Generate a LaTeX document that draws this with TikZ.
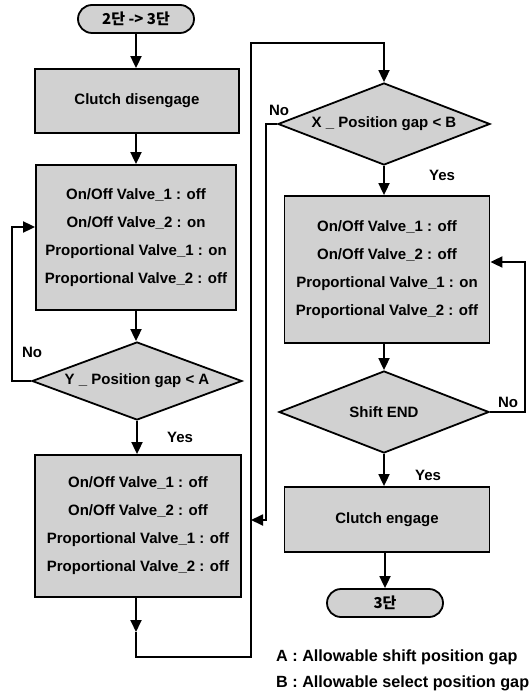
\documentclass[tikz,border=0pt]{standalone}
\usepackage{fontspec}
\setmainfont{Liberation Sans}
\newfontfamily\cjkfont{Noto Sans CJK KR}
\usetikzlibrary{shapes.geometric,shapes.misc,arrows.meta}
\begin{document}
\begin{tikzpicture}[x=1pt,y=-1pt,
  txt/.style={font=\fontsize{15}{18}\selectfont\bfseries},
  base/.style={draw, line width=1.8pt, fill=black!18, inner sep=0pt, align=center, txt},
  term/.style={base, rounded rectangle, minimum width=116pt, minimum height=28pt},
  proc/.style={base, rectangle},
  multi/.style={font=\fontsize{15}{28}\selectfont\bfseries},
  decision/.style={base, diamond, aspect=2.6},
  line/.style={line width=1.8pt},
  arr/.style={line, -{Triangle[length=12pt,width=11pt]}},
  lbl/.style={txt, inner sep=0pt},
  legend/.style={font=\fontsize{16.2}{19}\selectfont\bfseries, inner sep=0pt, anchor=west}
]
\useasboundingbox (0,0) rectangle (529,700);

% left column
\node[term] (start) at (136,19) {\cjkfont 2단 -> 3단};
\node[proc, minimum width=204pt, minimum height=64pt] (cd) at (137,101) {Clutch disengage};
\node[proc, multi, minimum width=200pt, minimum height=145pt] (b2) at (136,237.5)
  {On/Off Valve\_1 : off\\On/Off Valve\_2 : on\\Proportional Valve\_1 : on\\Proportional Valve\_2 : off};
\node[decision, minimum width=210pt, minimum height=78pt] (yd) at (137,381) {Y \_ Position gap < A};
\node[proc, multi, minimum width=206pt, minimum height=142pt] (b3) at (138,526)
  {On/Off Valve\_1 : off\\On/Off Valve\_2 : off\\Proportional Valve\_1 : off\\Proportional Valve\_2 : off};

% right column
\node[decision, minimum width=212pt, minimum height=82pt] (xd) at (384,124) {X \_ Position gap < B};
\node[proc, multi, minimum width=205pt, minimum height=147pt] (r1) at (387,269.5)
  {On/Off Valve\_1 : off\\On/Off Valve\_2 : off\\Proportional Valve\_1 : on\\Proportional Valve\_2 : off};
\node[decision, minimum width=210pt, minimum height=82pt] (sd) at (384,412) {Shift END};
\node[proc, minimum width=205pt, minimum height=65pt] (ce) at (387,519.5) {Clutch engage};
\node[term] (end) at (385,603) {\cjkfont 3단};

% helper coordinates
\coordinate (lj) at (12,227);
\coordinate (m1) at (136,632);
\coordinate (c1) at (136,657);
\coordinate (c2) at (251,657);
\coordinate (c3) at (251,43);
\coordinate (c4) at (384,43);
\coordinate (nx) at (266,520);
\coordinate (j1) at (251,520);
\coordinate (rj) at (525,262);

% connectors left
\draw[arr] (start.south) -- (start.south |- cd.north);
\draw[arr] (cd.south -| b2.north) -- (b2.north);
\draw[arr] (b2.south) -- (b2.south |- yd.north);
\draw[arr] (yd.south) -- (yd.south |- b3.north);
\draw[arr] (yd.west) -| (lj) -- (lj -| b2.west);
\draw[arr] (b3.south -| m1) -- (m1);
\draw[arr] (m1) -- (c1) -- (c2) -- (c3) -- (c4) -- (xd.north);

% connectors right
\draw[arr] (xd.south) -- (xd.south |- r1.north);
\draw[arr] (xd.west) -| (nx) -- (j1);
\draw[arr] (r1.south -| sd.north) -- (sd.north);
\draw[arr] (sd.south) -- (sd.south |- ce.north);
\draw[arr] (sd.east) -| (rj) -- (rj -| r1.east);
\draw[arr] (ce.south -| end.north) -- (end.north);

% labels
\node[lbl] (n1) at (32,352) {No};
\node[lbl] (y1) at (180,437) {Yes};
\node[lbl] (n2) at (279,110) {No};
\node[lbl] (y2) at (442,175) {Yes};
\node[lbl] (n3) at (508,402) {No};
\node[lbl] (y3) at (428,475) {Yes};

% legend
\node[legend] (la) at (276,657) {A : Allowable shift position gap};
\node[legend] (lb) at (276,683) {B : Allowable select position gap};
\end{tikzpicture}
\end{document}
